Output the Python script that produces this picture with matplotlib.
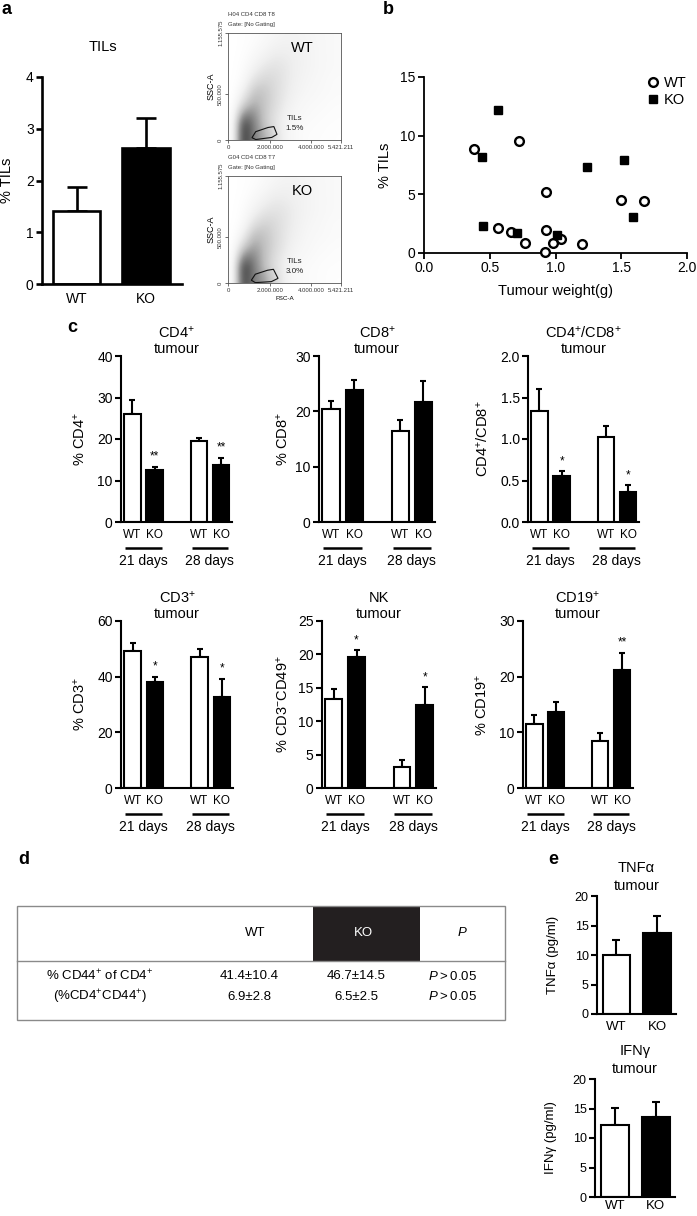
import numpy as np
import matplotlib
matplotlib.use("Agg")
import matplotlib.pyplot as plt
from matplotlib.patches import Rectangle, Polygon
from matplotlib.ticker import FormatStrFormatter

plt.rcParams["font.family"] = ["Liberation Sans", "DejaVu Sans"]
plt.rcParams["mathtext.fontset"] = "custom"
plt.rcParams["mathtext.rm"] = "Liberation Sans"
plt.rcParams["mathtext.it"] = "Liberation Sans:italic"
plt.rcParams["mathtext.bf"] = "Liberation Sans:bold"

# ---------------- data ----------------
groups = ["WT", "KO"]
fills = ["white", "black"]

# a: TILs bar
tils_mean = [1.42, 2.62]
tils_sem = [0.45, 0.59]

# a: flow density (rows bottom->top, cols FSC 0..5.4M), darkness 0..1
wt_density = [
    [0.00, 0.95, 0.60, 0.45, 0.25, 0.10, 0.05, 0.03, 0.02, 0.02, 0.01],
    [0.00, 0.90, 0.60, 0.35, 0.20, 0.10, 0.05, 0.04, 0.03, 0.02, 0.02],
    [0.00, 0.55, 0.55, 0.35, 0.22, 0.12, 0.07, 0.05, 0.04, 0.03, 0.02],
    [0.00, 0.25, 0.45, 0.35, 0.25, 0.15, 0.09, 0.06, 0.05, 0.04, 0.03],
    [0.00, 0.12, 0.35, 0.35, 0.25, 0.17, 0.11, 0.08, 0.06, 0.05, 0.04],
    [0.00, 0.05, 0.22, 0.28, 0.25, 0.18, 0.12, 0.09, 0.07, 0.05, 0.04],
    [0.00, 0.03, 0.12, 0.20, 0.22, 0.18, 0.13, 0.10, 0.08, 0.06, 0.05],
    [0.00, 0.02, 0.07, 0.13, 0.17, 0.16, 0.13, 0.10, 0.08, 0.06, 0.05],
    [0.00, 0.01, 0.04, 0.08, 0.12, 0.13, 0.12, 0.10, 0.08, 0.06, 0.05],
    [0.00, 0.01, 0.02, 0.05, 0.08, 0.10, 0.10, 0.09, 0.07, 0.06, 0.05],
]
ko_density = [
    [0.00, 0.90, 0.60, 0.50, 0.28, 0.12, 0.06, 0.04, 0.03, 0.02, 0.01],
    [0.00, 0.92, 0.62, 0.38, 0.22, 0.12, 0.06, 0.04, 0.03, 0.02, 0.02],
    [0.00, 0.60, 0.58, 0.38, 0.24, 0.14, 0.08, 0.06, 0.04, 0.03, 0.02],
    [0.00, 0.28, 0.50, 0.38, 0.27, 0.17, 0.10, 0.07, 0.05, 0.04, 0.03],
    [0.00, 0.12, 0.38, 0.36, 0.27, 0.18, 0.12, 0.08, 0.06, 0.05, 0.04],
    [0.00, 0.05, 0.22, 0.30, 0.26, 0.19, 0.13, 0.09, 0.07, 0.05, 0.04],
    [0.00, 0.03, 0.12, 0.20, 0.22, 0.19, 0.14, 0.10, 0.08, 0.06, 0.05],
    [0.00, 0.02, 0.07, 0.13, 0.17, 0.16, 0.13, 0.10, 0.08, 0.06, 0.05],
    [0.00, 0.01, 0.04, 0.08, 0.12, 0.13, 0.12, 0.10, 0.08, 0.06, 0.05],
    [0.00, 0.01, 0.02, 0.05, 0.08, 0.10, 0.10, 0.09, 0.07, 0.06, 0.05],
]
wt_gate_x = [1.15e6, 1.33e6, 1.92e6, 2.20e6, 2.35e6, 2.10e6, 1.33e6]
wt_gate_y = [25e3, 90e3, 135e3, 145e3, 61e3, 28e3, 5e3]
ko_gate_x = [1.12e6, 1.31e6, 1.90e6, 2.18e6, 2.40e6, 2.08e6, 1.31e6]
ko_gate_y = [30e3, 95e3, 138e3, 148e3, 50e3, 15e3, 4e3]
flow_headers = [["H04 CD4 CD8 T8", "Gate: [No Gating]"], ["G04 CD4 CD8 T7", "Gate: [No Gating]"]]
flow_gate_pct = ["1.5%", "3.0%"]
fsc_max, ssc_max = 5421211, 1155575

# b: scatter
wt_weight = [0.38, 0.72, 0.93, 0.56, 0.66, 0.77, 0.93, 0.98, 1.04, 1.20, 0.92, 1.50, 1.67]
wt_tils = [8.84, 9.52, 5.16, 2.17, 1.80, 0.88, 1.97, 0.88, 1.17, 0.77, 0.11, 4.48, 4.39]
ko_weight = [0.56, 0.44, 0.45, 0.71, 1.01, 1.24, 1.52, 1.59]
ko_tils = [12.18, 8.21, 2.34, 1.74, 1.57, 7.36, 7.96, 3.08]

# c: order WT21, KO21, WT28, KO28
c_labels = ["WT", "KO", "WT", "KO"]
days = ["21 days", "28 days"]
cd4_mean, cd4_sem, cd4_sig = [26.1, 12.5, 19.6, 13.8], [3.3, 0.8, 0.7, 1.7], ["", "**", "", "**"]
cd8_mean, cd8_sem, cd8_sig = [20.5, 23.8, 16.4, 21.7], [1.4, 1.8, 2.0, 3.8], ["", "", "", ""]
ratio_mean, ratio_sem, ratio_sig = [1.34, 0.55, 1.02, 0.36], [0.26, 0.06, 0.14, 0.08], ["", "*", "", "*"]
cd3_mean, cd3_sem, cd3_sig = [49.2, 38.0, 47.2, 32.6], [2.8, 2.0, 2.6, 6.7], ["", "*", "", "*"]
nk_mean, nk_sem, nk_sig = [13.3, 19.6, 3.15, 12.5], [1.5, 1.0, 1.1, 2.55], ["", "*", "", "*"]
cd19_mean, cd19_sem, cd19_sig = [11.5, 13.6, 8.5, 21.2], [1.7, 1.9, 1.3, 3.1], ["", "", "", "**"]

# d: table
table_cols = ["WT", "KO", "$P$"]
table_rows = ["% CD44$^{+}$ of CD4$^{+}$", "(%CD4$^{+}$CD44$^{+}$)"]
table_wt = ["41.4\u00b110.4", "6.9\u00b12.8"]
table_ko = ["46.7\u00b114.5", "6.5\u00b12.5"]
table_p = ["$P$\u2009>\u20090.05", "$P$\u2009>\u20090.05"]

# e: cytokines
tnf_mean, tnf_sem = [10.0, 13.8], [2.5, 2.8]
ifn_mean, ifn_sem = [12.2, 13.5], [2.9, 2.6]

# ---------------- figure ----------------
W, H = 697, 1216
fig = plt.figure(figsize=(W / 100, H / 100), dpi=100)


def px_axes(l, t, r, b):
    return fig.add_axes([l / W, 1 - b / H, (r - l) / W, (b - t) / H])


def bar_panel(ax, pos, means, sems, cols, ymax, step, lw, capsize, width, fs=10):
    ax.bar(pos, means, width=width, color=cols, edgecolor="black", linewidth=lw, zorder=2)
    ax.errorbar(pos, means, yerr=[np.zeros(len(means)), sems], fmt="none", ecolor="black",
                elinewidth=lw, capsize=capsize, capthick=lw, zorder=1)
    ax.set_ylim(0, ymax)
    ax.set_yticks(np.arange(0, ymax + step / 2, step))
    for s in ["top", "right"]:
        ax.spines[s].set_visible(False)
    ax.spines["left"].set_linewidth(lw)
    ax.spines["bottom"].set_linewidth(lw)
    ax.tick_params(axis="y", direction="out", length=4, width=lw, labelsize=fs, pad=2)
    ax.tick_params(axis="x", length=0, labelsize=fs)


def side_text(ax, dist_px, text, fs=10.5):
    w = ax.get_position().width * W
    ax.text(-dist_px / w, 0.5, text, transform=ax.transAxes, rotation=90,
            ha="center", va="center", fontsize=fs)


def title2(ax, l1, l2, up1, up2, fs=10.5):
    h = ax.get_position().height * H
    ax.text(0.5, 1 + up1 / h, l1, transform=ax.transAxes, ha="center", va="center", fontsize=fs)
    ax.text(0.5, 1 + up2 / h, l2, transform=ax.transAxes, ha="center", va="center", fontsize=fs)


# overlay for panel letters + table
ov = fig.add_axes([0, 0, 1, 1])
ov.set_xlim(0, W)
ov.set_ylim(H, 0)
ov.axis("off")
for letter, x, y in [("a", 1, 10), ("b", 383, 10), ("c", 67, 327), ("d", 18, 860), ("e", 548, 860)]:
    ov.text(x, y, letter, fontsize=13, fontweight="bold", ha="left", va="center")

# ---- a: TILs bars
ax = px_axes(42, 77, 182, 284)
bar_panel(ax, [0, 1], tils_mean, tils_sem, fills, 4, 1, lw=1.9, capsize=7.5, width=0.68)
ax.set_xlim(-0.5, 1.52)
ax.set_xticks([0, 1])
ax.set_xticklabels(groups)
ax.tick_params(axis="x", pad=6)
side_text(ax, 35, "% TILs")
ax.text(0.436, 1 + 30 / 207, "TILs", transform=ax.transAxes, ha="center", va="center", fontsize=10.5)

# ---- a: flow plots
flow_specs = [
    ((228, 33, 341, 140), wt_density, wt_gate_x, wt_gate_y, "WT", 0),
    ((228, 176, 341, 283), ko_density, ko_gate_x, ko_gate_y, "KO", 1),
]
for rect, dens, gx, gy, name, i in flow_specs:
    fa = px_axes(*rect)
    fa.imshow(np.array(dens), origin="lower", extent=[0, fsc_max, 0, ssc_max], aspect="auto",
              cmap="Greys", vmin=0, vmax=1.05, interpolation="bicubic")
    fa.add_patch(Polygon(np.column_stack([gx, gy]), closed=True, fill=False, edgecolor="#111111", lw=0.8))
    fa.set_xlim(0, fsc_max)
    fa.set_ylim(0, ssc_max)
    fa.set_xticks([0, 2e6, 4e6, fsc_max])
    fa.set_xticklabels(["0", "2.000.000", "4.000.000", "5.421.211"])
    fa.set_yticks([0, 5e5, ssc_max])
    fa.set_yticklabels(["0", "500.000", "1.155.575"], rotation=90, va="center")
    fa.tick_params(labelsize=4.3, length=2, width=0.5, pad=1.5, colors="#333333")
    for s in fa.spines.values():
        s.set_linewidth(0.6)
        s.set_color("#555555")
    fa.set_ylabel("SSC-A", fontsize=6.5, labelpad=2)
    if i == 1:
        fa.set_xlabel("FSC-A", fontsize=4.5, labelpad=2)
    fa.text(0, 1.17, flow_headers[i][0], transform=fa.transAxes, fontsize=4.3, ha="left", va="center", color="#333333")
    fa.text(0, 1.08, flow_headers[i][1], transform=fa.transAxes, fontsize=4.3, ha="left", va="center", color="#333333")
    fa.text(3.56e6, 0.99e6, name, fontsize=10.5, ha="center", va="center")
    fa.text(3.2e6, 2.35e5, "TILs", fontsize=5.8, ha="center", va="center", color="#222222")
    fa.text(3.2e6, 1.25e5, flow_gate_pct[i], fontsize=5.8, ha="center", va="center", color="#222222")

# ---- b: scatter
bx = px_axes(424, 77, 687, 253)
bx.plot(wt_weight, wt_tils, "o", ms=6.3, mfc="white", mec="black", mew=1.7, label="WT", clip_on=False, zorder=3)
bx.plot(ko_weight, ko_tils, "s", ms=5.3, mfc="black", mec="black", label="KO", clip_on=False, zorder=3)
bx.set_xlim(0, 2.0)
bx.set_ylim(0, 15)
bx.set_xticks([0, 0.5, 1.0, 1.5, 2.0])
bx.xaxis.set_major_formatter(FormatStrFormatter("%.1f"))
bx.set_yticks([0, 5, 10, 15])
for s in ["top", "right"]:
    bx.spines[s].set_visible(False)
bx.spines["left"].set_linewidth(1.3)
bx.spines["bottom"].set_linewidth(1.3)
bx.tick_params(direction="out", length=4, width=1.3, labelsize=10, pad=2)
bx.set_xlabel("Tumour weight(g)", fontsize=10.5, labelpad=6)
side_text(bx, 39, "% TILs")
bx.legend(loc="upper right", bbox_to_anchor=(1.02, 1.04), frameon=False, fontsize=10.5,
          handletextpad=0.1, handlelength=1.2, labelspacing=0.25, borderaxespad=0)

# ---- c: six bar panels
c_specs = [
    ((121, 356, 232, 522), "CD4$^{+}$", "% CD4$^{+}$", cd4_mean, cd4_sem, cd4_sig, 40, 10, 41, False),
    ((319, 356, 435, 522), "CD8$^{+}$", "% CD8$^{+}$", cd8_mean, cd8_sem, cd8_sig, 30, 10, 36, False),
    ((528, 356, 639, 522), "CD4$^{+}$/CD8$^{+}$", "CD4$^{+}$/CD8$^{+}$", ratio_mean, ratio_sem, ratio_sig, 2.0, 0.5, 45, True),
    ((121, 621, 233, 788), "CD3$^{+}$", "% CD3$^{+}$", cd3_mean, cd3_sem, cd3_sig, 60, 20, 41, False),
    ((322, 621, 436, 788), "NK", "% CD3$^{-}$CD49$^{+}$", nk_mean, nk_sem, nk_sig, 25, 5, 39, False),
    ((523, 621, 633, 788), "CD19$^{+}$", "% CD19$^{+}$", cd19_mean, cd19_sem, cd19_sig, 30, 10, 41, False),
]
c_pos = [0, 1, 3, 4]
for rect, t1, ylab, means, sems, sig, ymax, step, ydist, dec in c_specs:
    ax = px_axes(*rect)
    bar_panel(ax, c_pos, means, sems, ["white", "black", "white", "black"], ymax, step,
              lw=1.5, capsize=2.3, width=0.74)
    ax.set_xlim(-0.52, 4.5)
    if dec:
        ax.yaxis.set_major_formatter(FormatStrFormatter("%.1f"))
    ax.set_xticks(c_pos)
    ax.set_xticklabels(c_labels, fontsize=8.5)
    ax.tick_params(axis="x", pad=5)
    h = rect[3] - rect[1]
    tr = ax.get_xaxis_transform()
    for g, lab in enumerate(days):
        x0 = c_pos[2 * g]
        ax.plot([x0 - 0.33, x0 + 1.33], [-26 / h, -26 / h], color="black", lw=1.8,
                transform=tr, clip_on=False, solid_capstyle="butt")
        ax.text(x0 + 0.5, -39 / h, lab, transform=tr, ha="center", va="center", fontsize=10)
    for x, m, s, st in zip(c_pos, means, sems, sig):
        if st:
            ax.annotate(st, (x, m + s), xytext=(0, 3), textcoords="offset points",
                        ha="center", va="bottom", fontsize=8.5)
    side_text(ax, ydist, ylab)
    title2(ax, t1, "tumour", 23, 7)

# ---- d: table
tl, tt, tr_, tb, th = 17, 906, 505, 1020, 961
ov.add_patch(Rectangle((313, tt), 420 - 313, th - tt, facecolor="#231f20", edgecolor="none"))
ov.add_patch(Rectangle((tl, tt), tr_ - tl, tb - tt, fill=False, edgecolor="#8a8a8a", lw=1.0))
ov.plot([tl, tr_], [th, th], color="#8a8a8a", lw=1.0)
col_x = [255, 363, 462]
for x, lab, c in zip(col_x, table_cols, ["black", "white", "black"]):
    ov.text(x, 933, lab, ha="center", va="center", fontsize=9.5, color=c)
row_y = [976, 997]
for k in range(2):
    ov.text(100, row_y[k], table_rows[k], ha="center", va="center", fontsize=9.5)
    ov.text(249, row_y[k], table_wt[k], ha="center", va="center", fontsize=9.5)
    ov.text(356, row_y[k], table_ko[k], ha="center", va="center", fontsize=9.5)
    ov.text(453, row_y[k], table_p[k], ha="center", va="center", fontsize=9.5)

# ---- e: cytokines
for rect, mean, sem, t1, ylab, lpad in [
    ((597, 896, 676, 1014), tnf_mean, tnf_sem, "TNF\u03b1", "TNF\u03b1 (pg/ml)", 5),
    ((595, 1079, 675, 1197), ifn_mean, ifn_sem, "IFN\u03b3", "IFN\u03b3 (pg/ml)", 2),
]:
    ax = px_axes(*rect)
    bar_panel(ax, [0, 1], mean, sem, fills, 20, 5, lw=1.5, capsize=3.0, width=0.68, fs=9)
    ax.set_xlim(-0.48, 1.47)
    ax.set_xticks([0, 1])
    ax.set_xticklabels(groups, fontsize=9.5)
    ax.tick_params(axis="x", pad=lpad)
    side_text(ax, 44, ylab, fs=9.5)
    title2(ax, t1, "tumour", 28, 10)

fig.savefig("out.png", dpi=100)
